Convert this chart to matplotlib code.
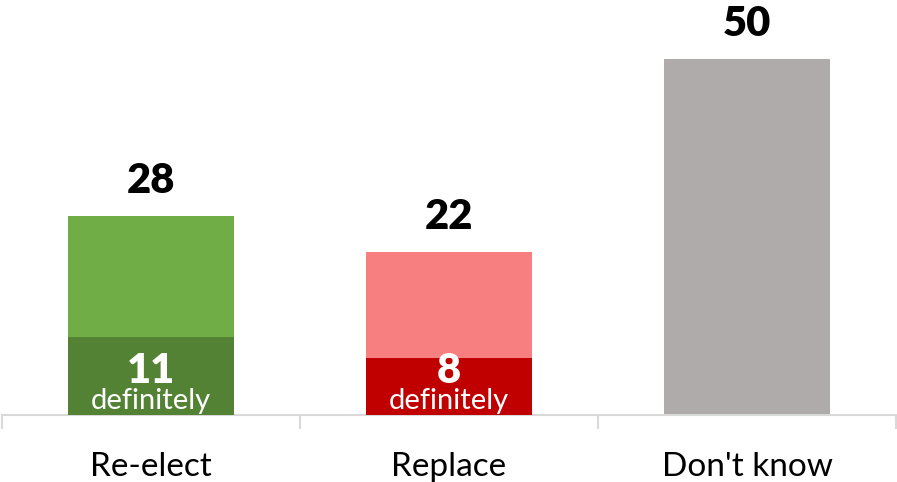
import matplotlib
matplotlib.use("Agg")
from matplotlib import pyplot as plt

# data
categories = ["Re-elect", "Replace", "Don't know"]
totals = [28, 22.9, 50]
total_labels = ["28", "22", "50"]
definitely = [11, 8, None]
definitely_labels = ["11", "8", None]

light_colors = ["#70AD47", "#F77F7F", "#AFABAB"]
dark_colors = ["#548235", "#C00000", None]

plt.rcParams["font.family"] = ["Lato", "DejaVu Sans"]

fig = plt.figure(figsize=(8.97, 4.82), dpi=100)
ax = fig.add_axes([2 / 897, 67 / 482, 894 / 897, 415 / 482])

x = list(range(len(categories)))
width = 0.56

ax.bar(x, totals, width=width, color=light_colors, zorder=2)
for i, val in enumerate(definitely):
    if val is not None:
        ax.bar(x[i], val, width=width, color=dark_colors[i], zorder=3)
        ax.annotate(definitely_labels[i], (x[i], 0), xytext=(0, 23),
                    textcoords="offset points", ha="center", va="baseline",
                    fontsize=30, fontweight="heavy", color="white", zorder=4)
        ax.annotate("definitely", (x[i], 0), xytext=(0, 4.5),
                    textcoords="offset points", ha="center", va="baseline",
                    fontsize=21, color="white", zorder=4)

for i, val in enumerate(totals):
    ax.annotate(total_labels[i], (x[i], val), xytext=(0, 16.5),
                textcoords="offset points", ha="center", va="baseline",
                fontsize=30, fontweight="heavy", color="black")

ax.set_xlim(-0.5, 2.5)
ax.set_ylim(0, 415 / 356 * 50)

for side in ["top", "right", "left"]:
    ax.spines[side].set_visible(False)
ax.spines["bottom"].set_color("#D9D9D9")
ax.spines["bottom"].set_linewidth(1.5)
ax.set_yticks([])

ax.set_xticks(x)
ax.set_xticklabels(categories, fontsize=24)
ax.tick_params(axis="x", which="major", length=0, pad=27)
ax.set_xticks([-0.5, 0.5, 1.5, 2.5], minor=True)
ax.tick_params(axis="x", which="minor", length=10, width=1.5, color="#D9D9D9")

fig.savefig("out.png", dpi=100)
